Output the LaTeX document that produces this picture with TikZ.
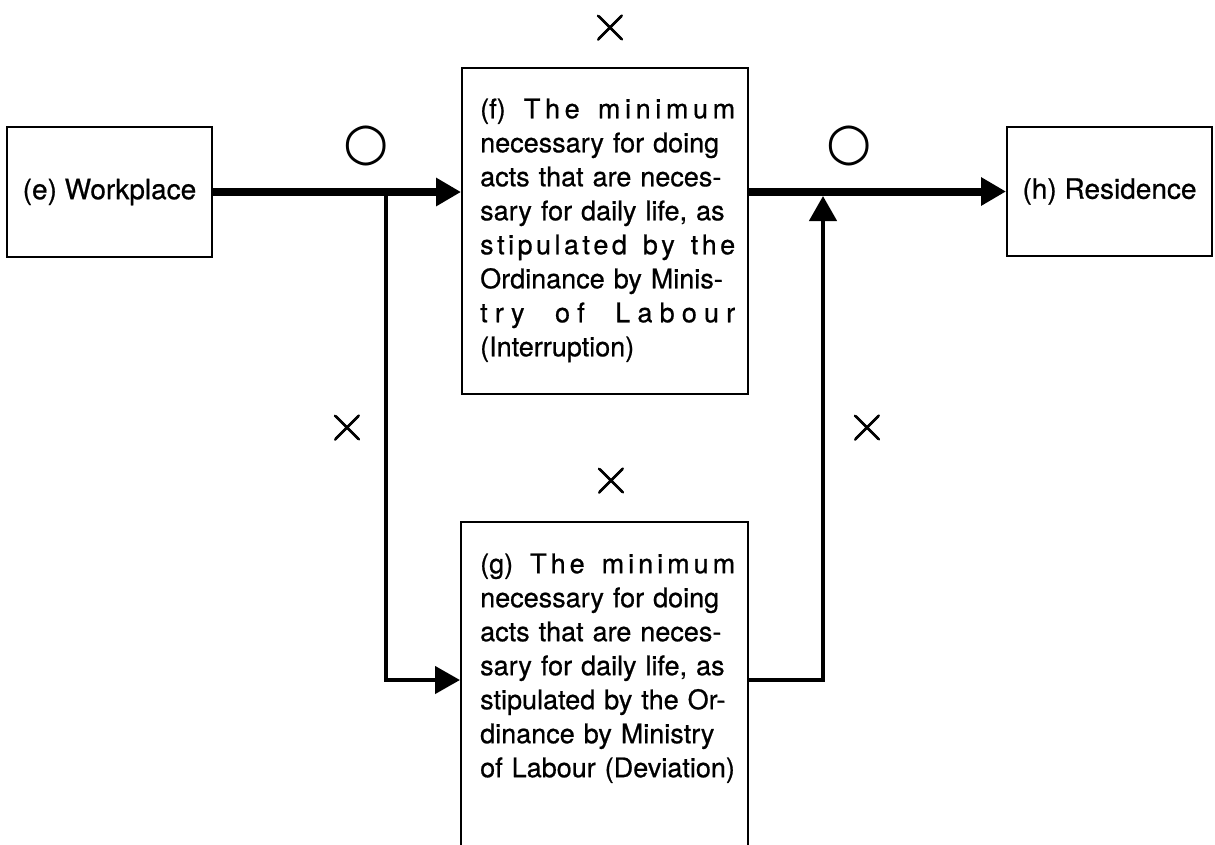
\documentclass[tikz,border=0pt]{standalone}
\usepackage{fontspec}
\setmainfont{TeX Gyre Heros}
\newfontfamily\printfont{TeX Gyre Heros}[FakeBold=0.7]
\newfontfamily\crossfont{Latin Modern Roman}[FakeBold=1.2]
\newfontfamily\symfont{DejaVu Sans}
\usetikzlibrary{arrows.meta}

\begin{document}
\begin{tikzpicture}[x=1pt,y=-1pt,
  frame/.style={draw, line width=2pt, inner sep=0pt},
  caption/.style={font=\printfont\fontsize{28}{34}\selectfont},
  body/.style={anchor=north west, inner sep=0pt, text width=255pt, align=left,
               font=\printfont\fontsize{27}{34}\selectfont},
  tip/.style={-{Triangle[length=25pt,width=27pt]}},
  heavy/.style={line width=8pt, tip},
  light/.style={line width=4.5pt},
  sym/.style={inner sep=0pt, font=\crossfont\fontsize{56}{56}\selectfont},
  ring/.style={inner sep=0pt, font=\symfont\fontsize{52}{52}\selectfont}]

\useasboundingbox (0,0) rectangle (1215,844);
\clip (0,0) rectangle (1215,844);

% boxes
\node[frame, caption, minimum width=205pt, minimum height=130pt] (e) at (109.5,192) {(e) Workplace};
\node[frame, caption, minimum width=205pt, minimum height=129pt] (h) at (1109.5,191.5) {(h) Residence};
\node[frame, minimum width=286pt, minimum height=326pt, anchor=north west] (f) at (461,67) {};
\node[frame, minimum width=287pt, minimum height=400pt, anchor=north west] (g) at (460,521) {};

% box texts
\node[body] (ftext) at (480,98.3) {%
\makebox[255pt][s]{(f)\hfil\ \hfil T\hfil h\hfil e\hfil\ \hfil m\hfil i\hfil n\hfil i\hfil m\hfil u\hfil m}\\
\makebox[255pt][s]{necessary for doing}\\
\makebox[255pt][s]{acts that are neces-}\\
\makebox[255pt][s]{sary for daily life, as}\\
\makebox[255pt][s]{s\hfil t\hfil i\hfil p\hfil u\hfil l\hfil a\hfil t\hfil e\hfil d\hfil\ \hfil b\hfil y\hfil\ \hfil t\hfil h\hfil e}\\
\makebox[255pt][s]{Ordinance by Minis-}\\
\makebox[255pt][s]{t\hfil r\hfil y\hfil\hfil\ \hfil o\hfil f\hfil\hfil\ \hfil L\hfil a\hfil b\hfil o\hfil u\hfil r}\\
(Interruption)};

\node[body] (gtext) at (480,553.3) {%
\makebox[255pt][s]{(g)\hfil\ \hfil T\hfil h\hfil e\hfil\ \hfil m\hfil i\hfil n\hfil i\hfil m\hfil u\hfil m}\\
\makebox[255pt][s]{necessary for doing}\\
\makebox[255pt][s]{acts that are neces-}\\
\makebox[255pt][s]{sary for daily life, as}\\
\makebox[255pt][s]{stipulated by the Or-}\\
\makebox[255pt][s]{dinance by Ministry}\\
\makebox[255pt][s]{of Labour (Deviation)}};

% junction points
\coordinate (split) at (386,192);
\coordinate (low) at (386,680);
\coordinate (rise) at (823,680);
\coordinate (meet) at (823,196);

% connectors
\draw[heavy] (e.east) -- (e.east -| f.west);
\draw[heavy] (f.east |- h.west) -- (h.west);
\draw[light, tip] (split) -- (low) -- (low -| g.west);
\draw[light, tip] (rise -| g.east) -- (rise) -- (meet);

% marks
\node[sym] (xtop) at (610,28) {×};
\node[sym] (xleft) at (347,428) {×};
\node[sym] (xright) at (867,428) {×};
\node[sym] (xmid) at (611,481) {×};
\node[ring] (oleft) at (366,146) {○};
\node[ring] (oright) at (849,146) {○};
\end{tikzpicture}
\end{document}
